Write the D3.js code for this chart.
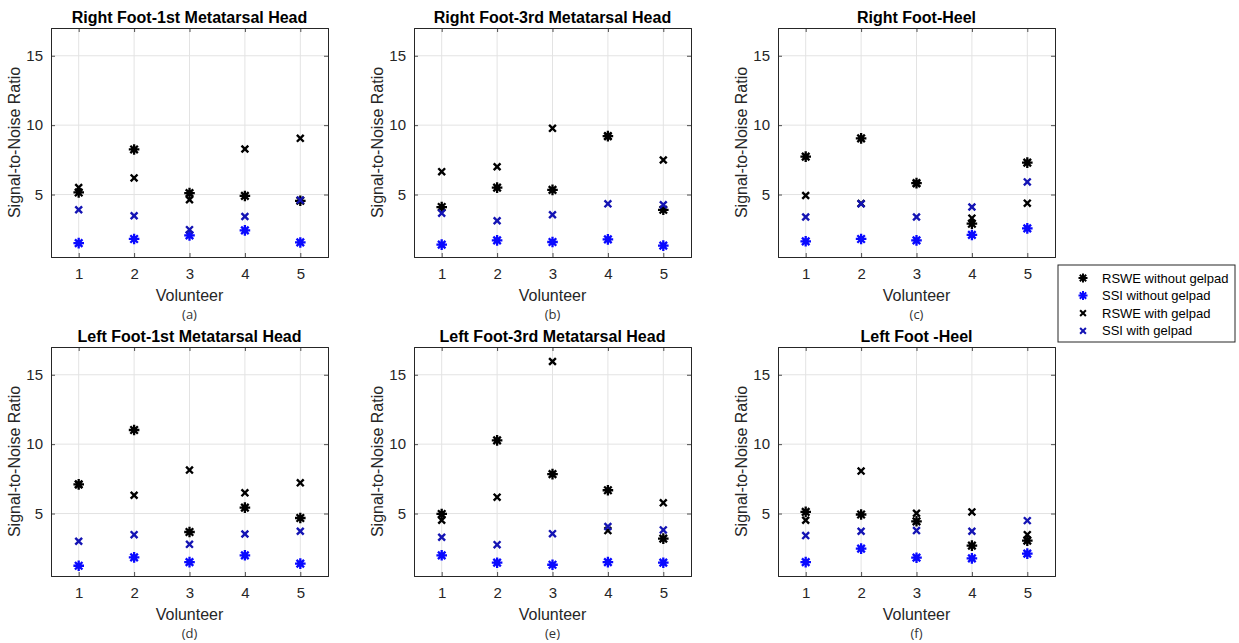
<!DOCTYPE html>
<html>
<head>
<meta charset="utf-8">
<script src="https://cdn.jsdelivr.net/npm/d3@7"></script>
<style>
  html, body { margin: 0; padding: 0; background: #fff; }
  svg { display: block; font-family: "Liberation Sans", Arial, sans-serif; }
</style>
</head>
<body>
<svg id="chart" width="1239" height="643"></svg>
<script>
// Volunteers on the x axis
const volunteers = [1, 2, 3, 4, 5];
const yTicks = [5, 10, 15];

// Panel titles and tags, in reading order (a)–(f)
const panelTitles = [
  "Right Foot-1st Metatarsal Head",
  "Right Foot-3rd Metatarsal Head",
  "Right Foot-Heel",
  "Left Foot-1st Metatarsal Head",
  "Left Foot-3rd Metatarsal Head",
  "Left Foot -Heel"
];
const panelTags = ["(a)", "(b)", "(c)", "(d)", "(e)", "(f)"];

// Signal-to-noise ratio per panel, one value per volunteer
const rsweWithout = [
  [5.15, 8.25, 5.1, 4.9, 4.55],
  [4.1, 5.5, 5.34, 9.21, 3.9],
  [7.73, 9.05, 5.82, 2.9, 7.3],
  [7.1, 11.02, 3.67, 5.43, 4.68],
  [4.97, 10.27, 7.84, 6.68, 3.19],
  [5.12, 4.93, 4.44, 2.69, 3.05]
];
const ssiWithout = [
  [1.5, 1.8, 2.06, 2.42, 1.55],
  [1.39, 1.7, 1.58, 1.77, 1.32],
  [1.63, 1.8, 1.7, 2.09, 2.56],
  [1.24, 1.84, 1.5, 1.99, 1.39],
  [1.99, 1.46, 1.31, 1.5, 1.46],
  [1.5, 2.47, 1.82, 1.77, 2.11]
];
const rsweWith = [
  [5.5, 6.2, 4.62, 8.28, 9.05],
  [6.65, 7.0, 9.77, 9.2, 7.49],
  [4.93, 4.35, 5.8, 3.3, 4.38],
  [7.1, 6.32, 8.13, 6.49, 7.21],
  [4.52, 6.18, 15.95, 3.77, 5.77],
  [4.52, 8.06, 5.02, 5.12, 3.48]
];
const ssiWith = [
  [3.9, 3.47, 2.47, 3.42, 4.6],
  [3.66, 3.11, 3.54, 4.33, 4.26],
  [3.38, 4.33, 3.38, 4.1, 5.91],
  [3.0, 3.48, 2.78, 3.53, 3.72],
  [3.29, 2.76, 3.55, 4.06, 3.82],
  [3.41, 3.72, 3.77, 3.72, 4.49]
];

const seriesNames = ["RSWE without gelpad", "SSI without gelpad", "RSWE with gelpad", "SSI with gelpad"];
const seriesData = [rsweWithout, ssiWithout, rsweWith, ssiWith];
const seriesColor = ["#000000", "#0a0aff", "#000000", "#1414b4"];
const seriesShape = ["star", "star", "cross", "cross"];

const svg = d3.select("#chart");
const axisColor = "#262626";

// Plot-area layout
const colLeft = [51, 414, 778];
const rowTop = [28, 347];
const plotW = 277, plotH = 229;

// Marker path generators
function starPath(r) {
  let p = "";
  for (let k = 0; k < 4; k++) {
    const a = k * Math.PI / 4;
    const dx = r * Math.cos(a), dy = r * Math.sin(a);
    p += `M${-dx},${-dy}L${dx},${dy}`;
  }
  return p;
}
function crossPath(r) {
  return `M${-r},${-r}L${r},${r}M${-r},${r}L${r},${-r}`;
}

function drawMarker(g, shape, color, x, y, scale = 1) {
  if (shape === "star") {
    g.append("path").attr("transform", `translate(${x},${y})`)
      .attr("d", starPath(5.3 * scale)).attr("stroke", color)
      .attr("stroke-width", 2.3 * scale).attr("fill", "none");
    g.append("circle").attr("cx", x).attr("cy", y).attr("r", 2.6 * scale).attr("fill", color);
  } else {
    g.append("path").attr("transform", `translate(${x},${y})`)
      .attr("d", crossPath(3.4 * scale)).attr("stroke", color)
      .attr("stroke-width", 2.4 * scale).attr("fill", "none");
  }
}

panelTitles.forEach((title, i) => {
  const col = i % 3, row = Math.floor(i / 3);
  const g = svg.append("g").attr("transform", `translate(${colLeft[col]},${rowTop[row]})`);

  const x = d3.scaleLinear().domain([0.5, 5.5]).range([0, plotW]);
  const y = d3.scaleLinear().domain([0.5, 17]).range([plotH, 0]);

  // grid
  g.append("g").selectAll("line.vg").data(volunteers).join("line")
    .attr("x1", d => x(d)).attr("x2", d => x(d)).attr("y1", 0).attr("y2", plotH)
    .attr("stroke", "#e3e3e3").attr("stroke-width", 1);
  g.append("g").selectAll("line.hg").data(yTicks).join("line")
    .attr("x1", 0).attr("x2", plotW).attr("y1", d => y(d)).attr("y2", d => y(d))
    .attr("stroke", "#e3e3e3").attr("stroke-width", 1);

  // axes with inward ticks
  const xAxis = d3.axisBottom(x).tickValues(volunteers).tickSize(-4).tickPadding(11).tickFormat(d3.format("d"));
  const yAxis = d3.axisLeft(y).tickValues(yTicks).tickSize(-4).tickPadding(8).tickFormat(d3.format("d"));
  const xa = g.append("g").attr("transform", `translate(0,${plotH})`).call(xAxis);
  const ya = g.append("g").call(yAxis);
  const xTop = g.append("g").call(d3.axisTop(x).tickValues(volunteers).tickSize(-4).tickFormat(""));
  const yRight = g.append("g").attr("transform", `translate(${plotW},0)`)
    .call(d3.axisRight(y).tickValues(yTicks).tickSize(-4).tickFormat(""));
  [xa, ya, xTop, yRight].forEach(a => {
    a.selectAll("path.domain").attr("stroke", axisColor).attr("stroke-width", 1);
    a.selectAll(".tick line").attr("stroke", axisColor).attr("stroke-width", 0.8);
    a.selectAll(".tick text").attr("fill", axisColor).attr("font-size", 15)
      .attr("font-family", "Liberation Sans, Arial, sans-serif");
  });

  // series markers
  seriesData.forEach((data, s) => {
    const mg = g.append("g");
    data[i].forEach((v, k) => drawMarker(mg, seriesShape[s], seriesColor[s], x(volunteers[k]), y(v)));
  });

  // title
  g.append("text").attr("x", plotW / 2).attr("y", -5).attr("text-anchor", "middle")
    .attr("font-size", 16).attr("font-weight", "bold").attr("fill", "#000").text(title);

  // axis labels
  g.append("text").attr("transform", `translate(-31,${plotH / 2}) rotate(-90)`)
    .attr("text-anchor", "middle").attr("font-size", 16).attr("fill", axisColor)
    .text("Signal-to-Noise Ratio");
  g.append("text").attr("x", plotW / 2).attr("y", plotH + 44).attr("text-anchor", "middle")
    .attr("font-size", 16).attr("fill", axisColor).text("Volunteer");

  // panel tag
  g.append("text").attr("x", plotW / 2).attr("y", plotH + 62).attr("text-anchor", "middle")
    .attr("font-size", 13).attr("fill", "#333").attr("font-family", "Open Sans, sans-serif").text(panelTags[i]);
});

// legend
const lg = svg.append("g").attr("transform", "translate(1058,265)");
lg.append("rect").attr("x", 0).attr("y", 0).attr("width", 177).attr("height", 77)
  .attr("fill", "#fff").attr("stroke", axisColor).attr("stroke-width", 1);
seriesNames.forEach((name, s) => {
  const yy = 13 + s * 17.6;
  drawMarker(lg, seriesShape[s], seriesColor[s], 25, yy, 0.85);
  lg.append("text").attr("x", 44).attr("y", yy + 4.5).attr("font-size", 13)
    .attr("fill", "#000").text(name);
});
</script>
</body>
</html>
